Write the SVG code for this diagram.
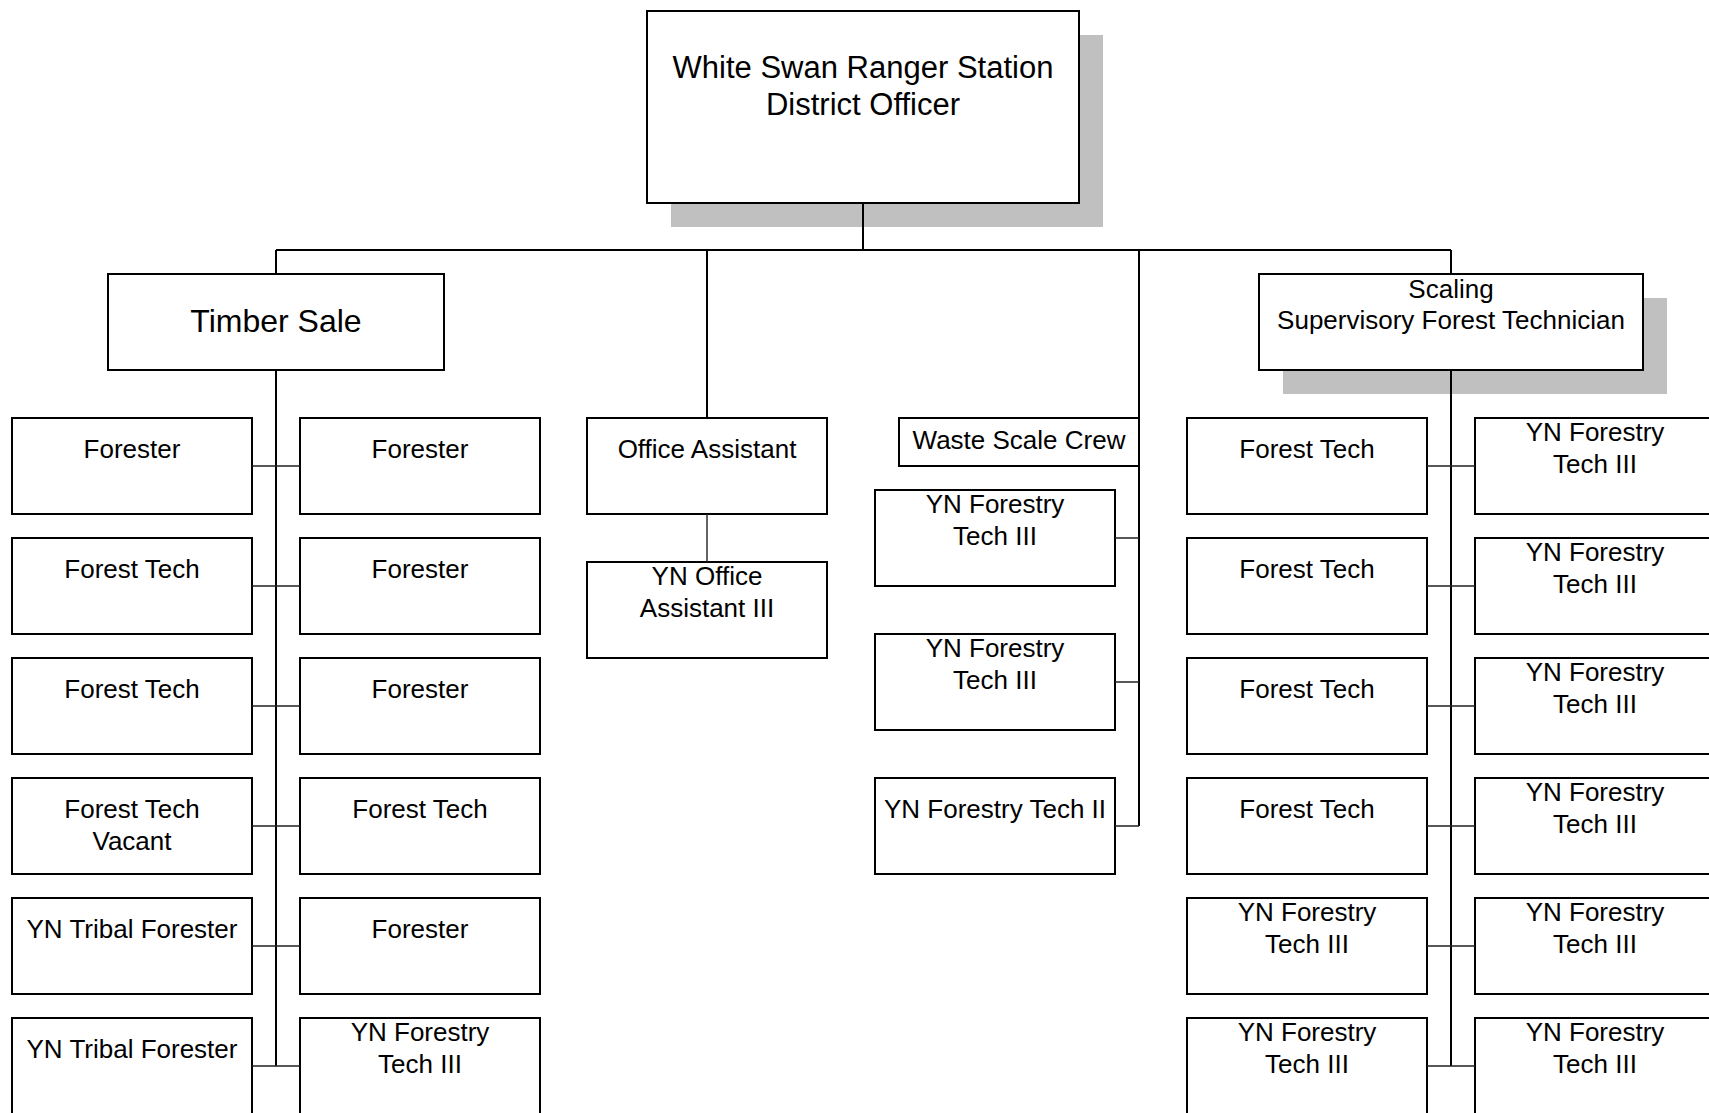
<svg xmlns="http://www.w3.org/2000/svg" width="1709" height="1113" viewBox="0 0 1709 1113">
  <style>
    .box { fill: #ffffff; stroke: #000000; stroke-width: 2; }
    .shadow { fill: #c0c0c0; stroke: none; }
    .t { font-family: "Liberation Sans", Arial, sans-serif; font-size: 26px; text-anchor: middle; fill: #000000; }
    .big { font-size: 31px; }
    .big2 { font-size: 32px; }
    .trunk { stroke: #000000; stroke-width: 2; fill: none; }
    .branch { stroke: #222222; stroke-width: 1.4; fill: none; }
  </style>
  <rect width="1709" height="1113" fill="#ffffff"/>

  <!-- top -->
  <g id="district-officer">
    <rect class="shadow" x="671" y="35" width="432" height="192"/>
    <rect class="box" x="647" y="11" width="432" height="192"/>
    <text class="t big" x="863" y="78">White Swan Ranger Station</text>
    <text class="t big" x="863" y="115">District Officer</text>
  </g>

  <g id="timber-sale">
    <rect class="box" x="108" y="274" width="336" height="96"/>
    <text class="t big2" x="276" y="332">Timber Sale</text>
  </g>

  <g id="scaling">
    <rect class="shadow" x="1283" y="298" width="384" height="96"/>
    <rect class="box" x="1259" y="274" width="384" height="96"/>
    <text class="t" x="1451" y="298">Scaling</text>
    <text class="t" x="1451" y="329">Supervisory Forest Technician</text>
  </g>

  <!-- timber sale, left column -->
  <g id="ts-l1"><rect class="box" x="12" y="418" width="240" height="96"/><text class="t" x="132" y="458">Forester</text></g>
  <g id="ts-l2"><rect class="box" x="12" y="538" width="240" height="96"/><text class="t" x="132" y="578">Forest Tech</text></g>
  <g id="ts-l3"><rect class="box" x="12" y="658" width="240" height="96"/><text class="t" x="132" y="698">Forest Tech</text></g>
  <g id="ts-l4"><rect class="box" x="12" y="778" width="240" height="96"/><text class="t" x="132" y="818">Forest Tech</text><text class="t" x="132" y="850">Vacant</text></g>
  <g id="ts-l5"><rect class="box" x="12" y="898" width="240" height="96"/><text class="t" x="132" y="938">YN Tribal Forester</text></g>
  <g id="ts-l6"><rect class="box" x="12" y="1018" width="240" height="96"/><text class="t" x="132" y="1058">YN Tribal Forester</text></g>

  <!-- timber sale, right column -->
  <g id="ts-r1"><rect class="box" x="300" y="418" width="240" height="96"/><text class="t" x="420" y="458">Forester</text></g>
  <g id="ts-r2"><rect class="box" x="300" y="538" width="240" height="96"/><text class="t" x="420" y="578">Forester</text></g>
  <g id="ts-r3"><rect class="box" x="300" y="658" width="240" height="96"/><text class="t" x="420" y="698">Forester</text></g>
  <g id="ts-r4"><rect class="box" x="300" y="778" width="240" height="96"/><text class="t" x="420" y="818">Forest Tech</text></g>
  <g id="ts-r5"><rect class="box" x="300" y="898" width="240" height="96"/><text class="t" x="420" y="938">Forester</text></g>
  <g id="ts-r6"><rect class="box" x="300" y="1018" width="240" height="96"/><text class="t" x="420" y="1041">YN Forestry</text><text class="t" x="420" y="1073">Tech III</text></g>

  <!-- office -->
  <g id="office-assistant"><rect class="box" x="587" y="418" width="240" height="96"/><text class="t" x="707" y="458">Office Assistant</text></g>
  <g id="yn-office-assistant"><rect class="box" x="587" y="562" width="240" height="96"/><text class="t" x="707" y="585">YN Office</text><text class="t" x="707" y="617">Assistant III</text></g>

  <!-- waste scale crew -->
  <g id="waste-scale-crew"><rect class="box" x="899" y="418" width="240" height="48"/><text class="t" x="1019" y="449">Waste Scale Crew</text></g>
  <g id="wsc-1"><rect class="box" x="875" y="490" width="240" height="96"/><text class="t" x="995" y="513">YN Forestry</text><text class="t" x="995" y="545">Tech III</text></g>
  <g id="wsc-2"><rect class="box" x="875" y="634" width="240" height="96"/><text class="t" x="995" y="657">YN Forestry</text><text class="t" x="995" y="689">Tech III</text></g>
  <g id="wsc-3"><rect class="box" x="875" y="778" width="240" height="96"/><text class="t" x="995" y="818">YN Forestry Tech II</text></g>

  <!-- scaling, left column -->
  <g id="sc-l1"><rect class="box" x="1187" y="418" width="240" height="96"/><text class="t" x="1307" y="458">Forest Tech</text></g>
  <g id="sc-l2"><rect class="box" x="1187" y="538" width="240" height="96"/><text class="t" x="1307" y="578">Forest Tech</text></g>
  <g id="sc-l3"><rect class="box" x="1187" y="658" width="240" height="96"/><text class="t" x="1307" y="698">Forest Tech</text></g>
  <g id="sc-l4"><rect class="box" x="1187" y="778" width="240" height="96"/><text class="t" x="1307" y="818">Forest Tech</text></g>
  <g id="sc-l5"><rect class="box" x="1187" y="898" width="240" height="96"/><text class="t" x="1307" y="921">YN Forestry</text><text class="t" x="1307" y="953">Tech III</text></g>
  <g id="sc-l6"><rect class="box" x="1187" y="1018" width="240" height="96"/><text class="t" x="1307" y="1041">YN Forestry</text><text class="t" x="1307" y="1073">Tech III</text></g>

  <!-- scaling, right column -->
  <g id="sc-r1"><rect class="box" x="1475" y="418" width="240" height="96"/><text class="t" x="1595" y="441">YN Forestry</text><text class="t" x="1595" y="473">Tech III</text></g>
  <g id="sc-r2"><rect class="box" x="1475" y="538" width="240" height="96"/><text class="t" x="1595" y="561">YN Forestry</text><text class="t" x="1595" y="593">Tech III</text></g>
  <g id="sc-r3"><rect class="box" x="1475" y="658" width="240" height="96"/><text class="t" x="1595" y="681">YN Forestry</text><text class="t" x="1595" y="713">Tech III</text></g>
  <g id="sc-r4"><rect class="box" x="1475" y="778" width="240" height="96"/><text class="t" x="1595" y="801">YN Forestry</text><text class="t" x="1595" y="833">Tech III</text></g>
  <g id="sc-r5"><rect class="box" x="1475" y="898" width="240" height="96"/><text class="t" x="1595" y="921">YN Forestry</text><text class="t" x="1595" y="953">Tech III</text></g>
  <g id="sc-r6"><rect class="box" x="1475" y="1018" width="240" height="96"/><text class="t" x="1595" y="1041">YN Forestry</text><text class="t" x="1595" y="1073">Tech III</text></g>

  <!-- connectors, drawn over the drop shadows -->
  <g id="connectors">
    <path class="trunk" d="M863 203 V250 M276 250 H1451"/>
    <path class="trunk" d="M276 250 V274 M276 370 V1066"/>
    <path class="trunk" d="M707 250 V418"/>
    <path class="trunk" d="M1139 250 V826"/>
    <path class="trunk" d="M1451 250 V274 M1451 370 V1066"/>
    <path class="branch" d="M252 466 H300 M252 586 H300 M252 706 H300 M252 826 H300 M252 946 H300 M252 1066 H300"/>
    <path class="branch" d="M707 514 V562"/>
    <path class="branch" d="M1115 538 H1139 M1115 682 H1139 M1115 826 H1139"/>
    <path class="branch" d="M1427 466 H1475 M1427 586 H1475 M1427 706 H1475 M1427 826 H1475 M1427 946 H1475 M1427 1066 H1475"/>
  </g>
</svg>
